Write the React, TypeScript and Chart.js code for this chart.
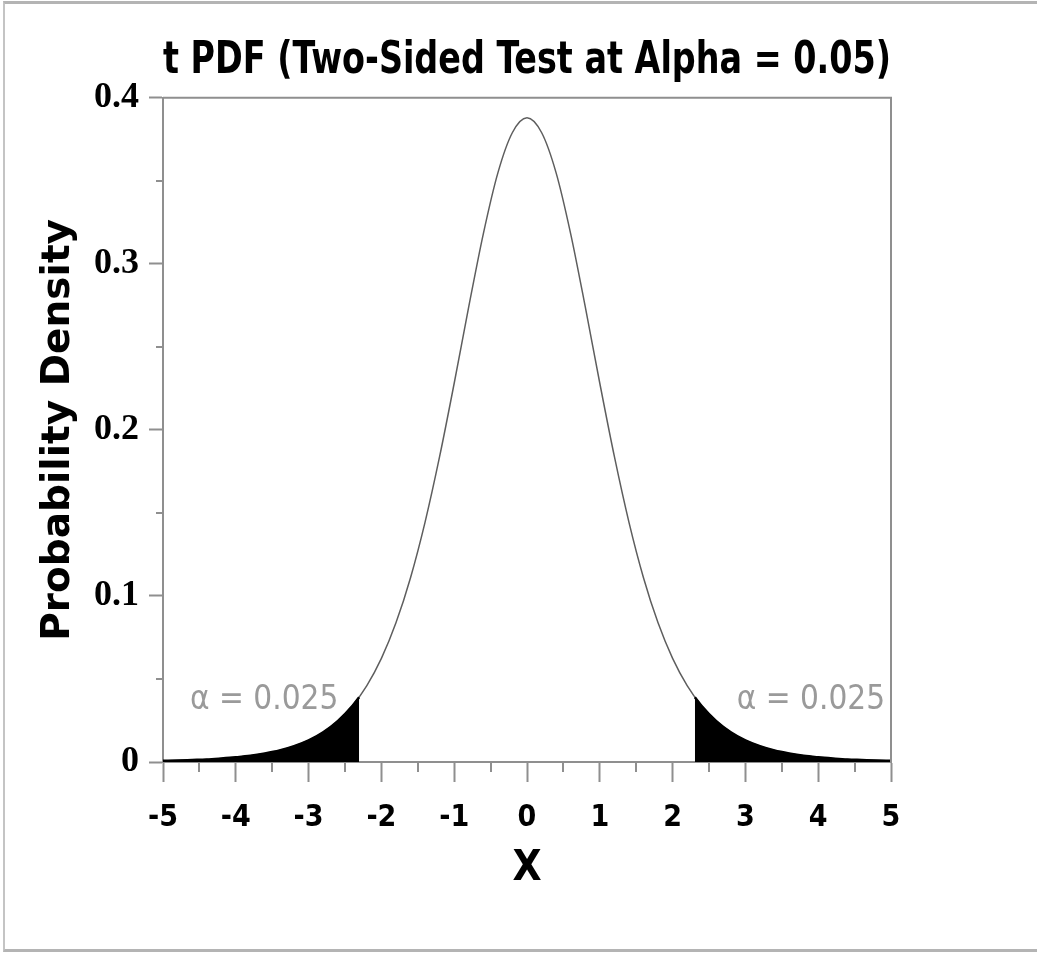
import React, { useEffect, useRef } from "react";
import { Chart, registerables } from "chart.js";

Chart.register(...registerables);

// ---- data ----
const titleText = "t PDF (Two-Sided Test at Alpha = 0.05)";
const xAxisTitle = "X";
const yAxisTitle = "Probability Density";

const xValues = [
  -5, -4.8, -4.6, -4.4, -4.2, -4, -3.8, -3.6, -3.4, -3.2, -3, -2.8, -2.6, -2.4, -2.2, -2,
  -1.8, -1.6, -1.4, -1.2, -1, -0.8, -0.6, -0.4, -0.2, 0, 0.2, 0.4, 0.6, 0.8, 1, 1.2, 1.4,
  1.6, 1.8, 2, 2.2, 2.4, 2.6, 2.8, 3, 3.2, 3.4, 3.6, 3.8, 4, 4.2, 4.4, 4.6, 4.8, 5,
];
const densityValues = [
  0.0007, 0.0009, 0.0012, 0.0015, 0.0021, 0.0028, 0.0037, 0.0051, 0.0069, 0.0095, 0.013,
  0.0179, 0.0246, 0.0337, 0.046, 0.0624, 0.0838, 0.111, 0.1445, 0.184, 0.2281, 0.2742,
  0.3181, 0.3548, 0.3791, 0.388, 0.3791, 0.3548, 0.3181, 0.2742, 0.2281, 0.184, 0.1445,
  0.111, 0.0838, 0.0624, 0.046, 0.0337, 0.0246, 0.0179, 0.013, 0.0095, 0.0069, 0.0051,
  0.0037, 0.0028, 0.0021, 0.0015, 0.0012, 0.0009, 0.0007,
];
const criticalValues = [-2.306, 2.306];
const criticalDensities = [0.039, 0.039];

const xMinorTicks = [-4.5, -3.5, -2.5, -1.5, -0.5, 0.5, 1.5, 2.5, 3.5, 4.5];
const yMinorTicks = [0.05, 0.15, 0.25, 0.35];

const alphaLabels = ["\u03b1 = 0.025", "\u03b1 = 0.025"];
const alphaLabelX = [-3.61, 3.9];
const alphaLabelY = [0.037, 0.037];

// ---- styles ----
const AXIS_COLOR = "#8f8f8f";
const COND_FALLBACK = '"DejaVu Sans Condensed", "Liberation Sans", sans-serif';
const TITLE_FONT = `"Noto Sans ExtraCondensed", ${COND_FALLBACK}`;
const TICK_FONT = `"Noto Sans Condensed", ${COND_FALLBACK}`;
const ALPHA_FONT = `"DejaVu Sans Condensed", "Liberation Sans", sans-serif`;
const SERIF = '"Liberation Serif", "DejaVu Serif", serif';

const decorPlugin = {
  id: "decor",
  afterDraw(chart: any) {
    const { ctx, chartArea } = chart;
    const xs = chart.scales.x;
    const ys = chart.scales.y;
    ctx.save();
    ctx.strokeStyle = AXIS_COLOR;
    ctx.lineWidth = 2;
    ctx.beginPath();
    ctx.moveTo(chartArea.left, chartArea.top);
    ctx.lineTo(chartArea.right, chartArea.top);
    ctx.lineTo(chartArea.right, chartArea.bottom);
    ctx.stroke();
    ctx.beginPath();
    xMinorTicks.forEach((v) => {
      const px = Math.round(xs.getPixelForValue(v));
      ctx.moveTo(px, chartArea.bottom);
      ctx.lineTo(px, chartArea.bottom + 10);
    });
    yMinorTicks.forEach((v) => {
      const py = Math.round(ys.getPixelForValue(v));
      ctx.moveTo(chartArea.left, py);
      ctx.lineTo(chartArea.left - 7, py);
    });
    ctx.stroke();
    ctx.fillStyle = "#9a9a9a";
    ctx.font = `normal 33px ${ALPHA_FONT}`;
    ctx.textAlign = "center";
    ctx.textBaseline = "middle";
    alphaLabels.forEach((t, i) => {
      ctx.fillText(t, xs.getPixelForValue(alphaLabelX[i]), ys.getPixelForValue(alphaLabelY[i]));
    });
    ctx.restore();
  },
};

export default function App() {
  const ref = useRef<HTMLCanvasElement | null>(null);

  useEffect(() => {
    if (!ref.current) return;
    const curve = xValues.map((x, i) => ({ x, y: densityValues[i] }));
    const leftTail = [
      ...xValues.map((x, i) => ({ x, y: densityValues[i] })).filter((p) => p.x <= criticalValues[0]),
      { x: criticalValues[0], y: criticalDensities[0] },
    ];
    const rightTail = [
      { x: criticalValues[1], y: criticalDensities[1] },
      ...xValues.map((x, i) => ({ x, y: densityValues[i] })).filter((p) => p.x >= criticalValues[1]),
    ];
    const tailStyle = {
      borderColor: "#000",
      backgroundColor: "#000",
      borderWidth: 2.5,
      pointRadius: 0,
      fill: "origin",
      cubicInterpolationMode: "monotone" as const,
    };
    const chart = new Chart(ref.current, {
      type: "line",
      data: {
        datasets: [
          { ...tailStyle, data: leftTail },
          { ...tailStyle, data: rightTail },
          {
            data: curve,
            borderColor: "#5e5e5e",
            borderWidth: 1.5,
            pointRadius: 0,
            fill: false,
            cubicInterpolationMode: "monotone",
          },
        ],
      },
      options: {
        responsive: false,
        animation: false,
        devicePixelRatio: 1,
        layout: { padding: { left: 0, right: 146, top: 0, bottom: 0 } },
        plugins: {
          legend: { display: false },
          tooltip: { enabled: false },
          title: {
            display: true,
            fullSize: false,
            text: titleText,
            color: "#000",
            font: { family: TITLE_FONT, size: 44, weight: "bold" },
            padding: { top: 35, bottom: 10 },
          },
        },
        scales: {
          x: {
            type: "linear",
            min: -5,
            max: 5,
            afterFit: (s: any) => {
              s.height = 192;
            },
            border: { display: true, color: AXIS_COLOR, width: 2 },
            grid: { drawOnChartArea: false, drawTicks: true, tickLength: 20, color: AXIS_COLOR, tickWidth: 2 },
            ticks: {
              stepSize: 1,
              color: "#000",
              padding: 18,
              maxRotation: 0,
              font: { family: TICK_FONT, size: 30, weight: "bold" },
            },
            title: {
              display: true,
              text: xAxisTitle,
              color: "#000",
              font: { family: TITLE_FONT, size: 42, weight: "bold" },
              padding: { top: 0, bottom: 60 },
            },
          },
          y: {
            type: "linear",
            min: 0,
            max: 0.4,
            afterFit: (s: any) => {
              s.width = 163;
            },
            border: { display: true, color: AXIS_COLOR, width: 2 },
            grid: { drawOnChartArea: false, drawTicks: true, tickLength: 14, color: AXIS_COLOR, tickWidth: 2 },
            ticks: {
              stepSize: 0.1,
              color: "#000",
              padding: 10,
              font: { family: SERIF, size: 36, weight: "bold" },
            },
            title: {
              display: true,
              text: yAxisTitle,
              color: "#000",
              font: { family: '"DejaVu Sans", sans-serif', size: 39, weight: "bold" },
              padding: { top: 35, bottom: 0 },
            },
          },
        },
      },
      plugins: [decorPlugin],
    });
    return () => chart.destroy();
  }, []);

  return (
    <div style={{ position: "absolute", left: 0, top: 0, width: 1037, height: 954, background: "#fff" }}>
      <div
        style={{
          position: "absolute",
          left: 3,
          top: 1,
          width: 1040,
          height: 951,
          borderTop: "3px solid #b4b4b4",
          borderLeft: "2px solid #c4c4c4",
          borderBottom: "3px solid #b4b4b4",
          boxSizing: "border-box",
        }}
      />
      <canvas ref={ref} width={1037} height={954} style={{ position: "absolute", left: 0, top: 0 }} />
    </div>
  );
}
